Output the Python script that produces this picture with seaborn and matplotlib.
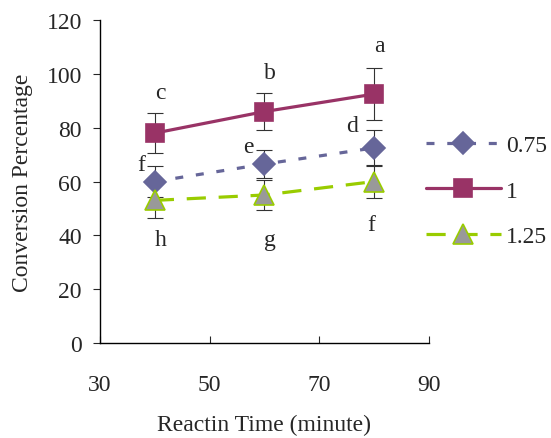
import numpy as np
import pandas as pd
import seaborn as sns
import matplotlib.pyplot as plt

# datos
tiempo = [40, 60, 80]
conv_075 = [60, 66.5, 72.5]
conv_1 = [78, 86, 92.5]
conv_125 = [53, 55, 60]
err_075 = [5.6, 5.3, 6.8]
err_1 = [7.4, 7.0, 9.6]
err_125 = [6.5, 5.7, 6.0]

# letras de significancia (texto, x, y)
letras = ["c", "b", "a", "f", "e", "d", "h", "g", "f"]
letras_x = [41, 61, 81, 37.5, 57, 76, 41, 61, 79.5]
letras_y = [93, 100.5, 110.5, 66.5, 73, 81, 38.5, 38.5, 44]

sns.set_style("ticks")
plt.rcParams['font.family'] = ['Liberation Serif', 'DejaVu Serif']
plt.rcParams['font.size'] = 17

fig = plt.figure(figsize=(5.51, 4.39), dpi=100)
ax = fig.add_axes([0.1815, 0.2164, 0.597, 0.7356])

series = [
    ("0.75", conv_075, err_075, "#666699", "D", 11, "#666699", (2.5, 4)),
    ("1", conv_1, err_1, "#993366", "s", 13, "#993366", ""),
    ("1.25", conv_125, err_125, "#99cc00", "^", 14, "#999999", (6, 4)),
]

for nombre, y, err, color, marca, tam, relleno, guion in series:
    ax.errorbar(tiempo, y, yerr=err, fmt="none", ecolor="#333333",
                elinewidth=0.8, capsize=6, capthick=0.8, zorder=2)

for nombre, y, err, color, marca, tam, relleno, guion in series:
    df = pd.DataFrame({"tiempo": tiempo, "conv": y})
    sns.lineplot(data=df, x="tiempo", y="conv", ax=ax, color=color,
                 linewidth=2.3, marker=marca, markersize=tam,
                 markerfacecolor=relleno, markeredgecolor=color,
                 markeredgewidth=1.2, label=nombre, zorder=3)
    if guion:
        ax.lines[-1].set_dashes(guion)

for t, lx, ly in zip(letras, letras_x, letras_y):
    ax.text(lx, ly, t, ha="center", va="center", fontsize=17)

ax.set_xlim(30, 90)
ax.set_ylim(0, 120)
ax.set_xticks([30, 50, 70, 90])
ax.set_yticks(range(0, 121, 20))
ax.tick_params(axis="x", direction="in", length=5, pad=22, labelsize=17)
ax.tick_params(axis="y", direction="out", length=5, pad=8, labelsize=17)
ax.set_xlabel("Reactin Time (minute)", fontsize=17, labelpad=14)
ax.set_ylabel("Conversion Percentage", fontsize=17, labelpad=10)
for lado in ["top", "right"]:
    ax.spines[lado].set_visible(False)
for lado in ["left", "bottom"]:
    ax.spines[lado].set_linewidth(1.0)
    ax.spines[lado].set_color("black")

ax.legend(loc="upper left", bbox_to_anchor=(0.925, 0.71), frameon=False,
          fontsize=17, labelspacing=1.0, handlelength=3.2, handletextpad=0.2)

fig.savefig("out.png", dpi=100)
